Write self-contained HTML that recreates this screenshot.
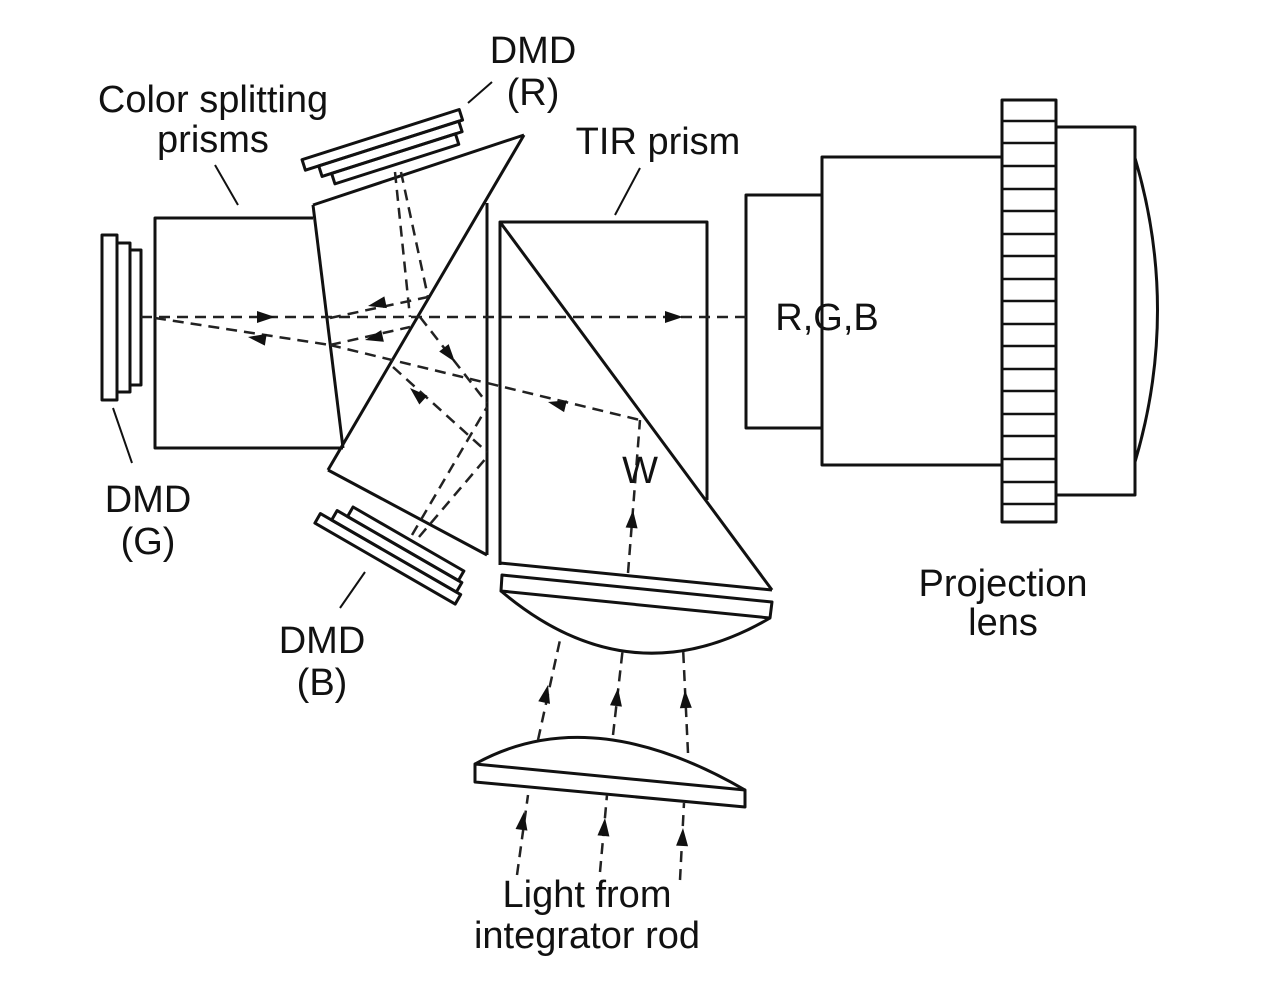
<!DOCTYPE html>
<html><head><meta charset="utf-8"><style>
html,body{margin:0;padding:0;background:#fff;}
svg{display:block;}
text{font-family:"Liberation Sans",Arial,sans-serif;font-size:38px;fill:#111;text-anchor:middle;}
</style></head><body>
<svg width="1280" height="986" viewBox="0 0 1280 986" xmlns="http://www.w3.org/2000/svg">
<g fill="none" stroke="#111" stroke-width="3" stroke-linejoin="round">
<rect x="102" y="235" width="15" height="165"/>
<rect x="117" y="243" width="13" height="149"/>
<rect x="130" y="250" width="11" height="135"/>
<polyline points="313,218 155,218 155,448 343,448"/>
<line x1="313" y1="205" x2="343" y2="448"/>
<line x1="313" y1="205" x2="524" y2="135"/>
<line x1="524" y1="135" x2="328" y2="470"/>
<line x1="328" y1="470" x2="487" y2="555"/>
<line x1="487" y1="203" x2="487" y2="555"/>
<g transform="translate(394,165) rotate(-17.7)">
<rect x="-62" y="-11" width="130" height="11"/>
<rect x="-72" y="-22" width="147" height="11"/>
<rect x="-86" y="-33" width="165" height="11"/>
</g>
<g transform="translate(405,537) rotate(30)">
<rect x="-60" y="0" width="128" height="11"/>
<rect x="-72" y="11" width="144" height="11"/>
<rect x="-85" y="22" width="162" height="11"/>
</g>
<polyline points="500,565 500,222 707,222 707,500"/>
<line x1="500" y1="222" x2="772" y2="590"/>
<line x1="500" y1="563" x2="772" y2="590"/>
<polygon points="502,575 772,602 770,618 501,591"/>
<path d="M501,591 Q630,700 770,618"/>
<polygon points="475,764 745,790 745,807 475,782"/>
<path d="M475,764 Q590,700 745,790"/>
<rect x="746" y="195" width="76" height="233"/>
<rect x="822" y="157" width="180" height="308"/>
<rect x="1056" y="127" width="79" height="368"/>
<path d="M1135,158 Q1180,310 1135,462"/>
<rect x="1002" y="100" width="54" height="422"/>
<g stroke-width="2.5">
<line x1="1002" y1="121" x2="1056" y2="121"/><line x1="1002" y1="143" x2="1056" y2="143"/>
<line x1="1002" y1="166" x2="1056" y2="166"/><line x1="1002" y1="189" x2="1056" y2="189"/>
<line x1="1002" y1="211" x2="1056" y2="211"/><line x1="1002" y1="234" x2="1056" y2="234"/>
<line x1="1002" y1="256" x2="1056" y2="256"/><line x1="1002" y1="279" x2="1056" y2="279"/>
<line x1="1002" y1="301" x2="1056" y2="301"/><line x1="1002" y1="324" x2="1056" y2="324"/>
<line x1="1002" y1="346" x2="1056" y2="346"/><line x1="1002" y1="369" x2="1056" y2="369"/>
<line x1="1002" y1="391" x2="1056" y2="391"/><line x1="1002" y1="414" x2="1056" y2="414"/>
<line x1="1002" y1="436" x2="1056" y2="436"/><line x1="1002" y1="459" x2="1056" y2="459"/>
<line x1="1002" y1="482" x2="1056" y2="482"/><line x1="1002" y1="504" x2="1056" y2="504"/>
</g>
<g stroke-width="2">
<line x1="215" y1="165" x2="238" y2="205"/>
<line x1="492" y1="82" x2="468" y2="103"/>
<line x1="640" y1="168" x2="615" y2="215"/>
<line x1="113" y1="408" x2="132" y2="463"/>
<line x1="365" y1="572" x2="340" y2="608"/>
</g>
</g>
<g fill="none" stroke="#222" stroke-width="2.5" stroke-dasharray="11,7">
<line x1="141" y1="317" x2="746" y2="317"/>
<line x1="155" y1="318" x2="330" y2="345"/>
<line x1="330" y1="345" x2="410" y2="327"/>
<line x1="330" y1="345" x2="640" y2="420"/>
<line x1="330" y1="318" x2="428" y2="297"/>
<line x1="395" y1="172" x2="410" y2="317"/>
<line x1="401" y1="172" x2="428" y2="297"/>
<line x1="420" y1="317" x2="487" y2="403"/>
<line x1="393" y1="367" x2="487" y2="452"/>
<line x1="412" y1="535" x2="487" y2="407"/>
<line x1="419" y1="537" x2="487" y2="457"/>
<line x1="628" y1="573" x2="640" y2="420"/>
<line x1="538" y1="740" x2="560" y2="640"/>
<line x1="613" y1="735" x2="623" y2="647"/>
<line x1="688" y1="753" x2="683" y2="647"/>
<line x1="517" y1="875" x2="528" y2="795"/>
<line x1="600" y1="872" x2="607" y2="795"/>
<line x1="680" y1="880" x2="684" y2="803"/>
</g>
<g fill="#111">
<polygon points="0,0 -18,-6 -18,6" transform="translate(275,317)"/>
<polygon points="0,0 -18,-6 -18,6" transform="translate(683,317)"/>
<polygon points="0,0 -18,-6 -18,6" transform="translate(248,337) rotate(188.8)"/>
<polygon points="0,0 -18,-6 -18,6" transform="translate(368,306) rotate(168)"/>
<polygon points="0,0 -18,-6 -18,6" transform="translate(365,340) rotate(167)"/>
<polygon points="0,0 -18,-6 -18,6" transform="translate(455,362) rotate(52)"/>
<polygon points="0,0 -18,-6 -18,6" transform="translate(410,388) rotate(222)"/>
<polygon points="0,0 -18,-6 -18,6" transform="translate(548,402) rotate(193.6)"/>
<polygon points="0,0 -18,-6 -18,6" transform="translate(633,510) rotate(-85.5)"/>
<polygon points="0,0 -18,-6 -18,6" transform="translate(548,685) rotate(-77.6)"/>
<polygon points="0,0 -18,-6 -18,6" transform="translate(618,688) rotate(-83.5)"/>
<polygon points="0,0 -18,-6 -18,6" transform="translate(685,690) rotate(-92.7)"/>
<polygon points="0,0 -18,-6 -18,6" transform="translate(524,812) rotate(-82)"/>
<polygon points="0,0 -18,-6 -18,6" transform="translate(605,818) rotate(-85)"/>
<polygon points="0,0 -18,-6 -18,6" transform="translate(683,828) rotate(-87)"/>
</g>
<text x="213" y="112">Color splitting</text>
<text x="213" y="152">prisms</text>
<text x="533" y="63">DMD</text>
<text x="533" y="105">(R)</text>
<text x="658" y="154">TIR prism</text>
<text x="827" y="330">R,G,B</text>
<text x="640" y="483">W</text>
<text x="148" y="512">DMD</text>
<text x="148" y="554">(G)</text>
<text x="322" y="653">DMD</text>
<text x="322" y="695">(B)</text>
<text x="1003" y="596">Projection</text>
<text x="1003" y="635">lens</text>
<text x="587" y="907">Light from</text>
<text x="587" y="948">integrator rod</text>
</svg>
</body></html>
